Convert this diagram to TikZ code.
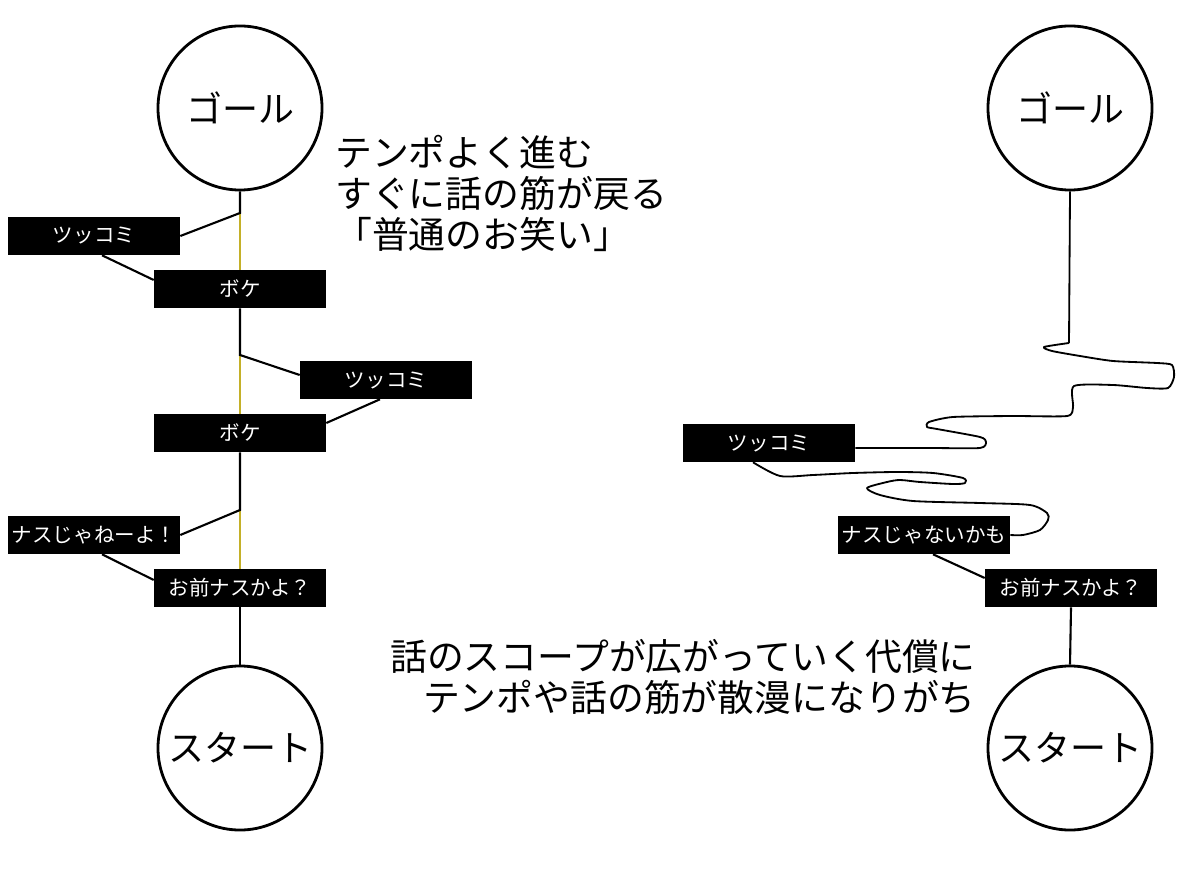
\documentclass[tikz,border=0pt]{standalone}
\usepackage{fontspec}
\setmainfont{Noto Sans CJK JP}
\usetikzlibrary{positioning}
\definecolor{guideyellow}{RGB}{196,176,40}

\begin{document}
\begin{tikzpicture}[x=0.025cm,y=-0.025cm,
  endpt/.style={circle,draw,line width=2pt,minimum size=4.1cm,inner sep=0pt,font=\fontsize{25.6}{30}\selectfont},
  bubble/.style={fill=black,text=white,minimum width=4.3cm,minimum height=0.95cm,inner sep=0pt,font=\fontsize{14.6}{16}\selectfont},
  link/.style={line width=1.5pt},
  guide/.style={line width=1pt,guideyellow},
  squiggle/.style={line width=1.3pt,line join=round},
  memo/.style={inner sep=0pt,font=\fontsize{26.2}{29.2}\selectfont}]
\useasboundingbox (0,0) rectangle (1200,878);

% Left: normal manzai
\node[endpt] (lgoal) at (240,108) {ゴール};
\node[endpt] (lstart) at (240,748) {スタート};
\node[bubble] (ltk1) at (94,236) {ツッコミ};
\node[bubble] (lbk1) at (240,289) {ボケ};
\node[bubble] (ltk2) at (386,380) {ツッコミ};
\node[bubble] (lbk2) at (240,433) {ボケ};
\node[bubble] (lnas) at (94,535) {ナスじゃねーよ！};
\node[bubble] (lomae) at (240,588) {お前ナスかよ？};
\coordinate (lj1) at (240,213);
\coordinate (lj2) at (240,355);
\coordinate (lj3) at (240,510);
% thin guide back to the main line
\foreach \j/\b in {lj1/lbk1,lj2/lbk2,lj3/lomae}
  \draw[guide] (\j) -- (\b.north);
\draw[link] (lgoal.south) -- (lj1) -- (ltk1.east);
\draw[link] ([xshift=0.2cm]ltk1.south) -- ([yshift=0.225cm]lbk1.west);
\draw[link] (lbk1.south) -- (lj2) -- ([yshift=0.125cm]ltk2.west);
\draw[link] ([xshift=-0.15cm]ltk2.south) -- ([yshift=0.25cm]lbk2.east);
\draw[link] (lbk2.south) -- (lj3) -- (lnas.east);
\draw[link] ([xshift=0.2cm]lnas.south) -- ([yshift=0.2cm]lomae.west);
\draw[link] (lomae.south) -- (lstart.north);
\node[memo,anchor=north west,align=left] (lmemo) at (335,135) {テンポよく進む\\すぐに話の筋が戻る\\「普通のお笑い」};

% Right: the story wanders off
\node[endpt] (rgoal) at (1070,108) {ゴール};
\node[endpt] (rstart) at (1070,748) {スタート};
\node[bubble] (rtk) at (769,443) {ツッコミ};
\node[bubble] (rnas) at (924,535) {ナスじゃないかも};
\node[bubble] (romae) at (1071,588) {お前ナスかよ？};
\coordinate (rj) at (1069,343);
\draw[squiggle] (rgoal.south) -- (rj);
\draw[squiggle] plot[smooth,tension=0.4] coordinates {(rj) (1044,347) (1052,351) (1080,356)
  (1113,361) (1157,363) (1172,365) (1174,377) (1168,388) (1147,388) (1113,385) (1074,386)
  (1073,407) (1067,416) (1013,416) (953,417) (929,422) (927,427) (937,429) (980,437)
  (986,442) (980,448) (930,448) ([yshift=-0.125cm]rtk.east)};
\draw[squiggle] plot[smooth,tension=0.45] coordinates {([xshift=-0.4cm]rtk.south) (780,476) (813,475)
  (853,473) (897,472) (933,473) (963,478) (965,483) (953,484) (920,482) (900,480) (887,482)
  (867,488) (880,495) (913,501) (980,503) (1030,505) (1047,513) (1048,520) (1040,530)
  (1023,535) (rnas.east)};
\draw[link] ([xshift=0.225cm]rnas.south) -- ([yshift=0.25cm]romae.west);
\draw[link] (romae.south) -- (rstart.north);
\node[memo,anchor=north east,align=right] (rmemo) at (976,639) {話のスコープが広がっていく代償に\\テンポや話の筋が散漫になりがち};
\end{tikzpicture}
\end{document}
